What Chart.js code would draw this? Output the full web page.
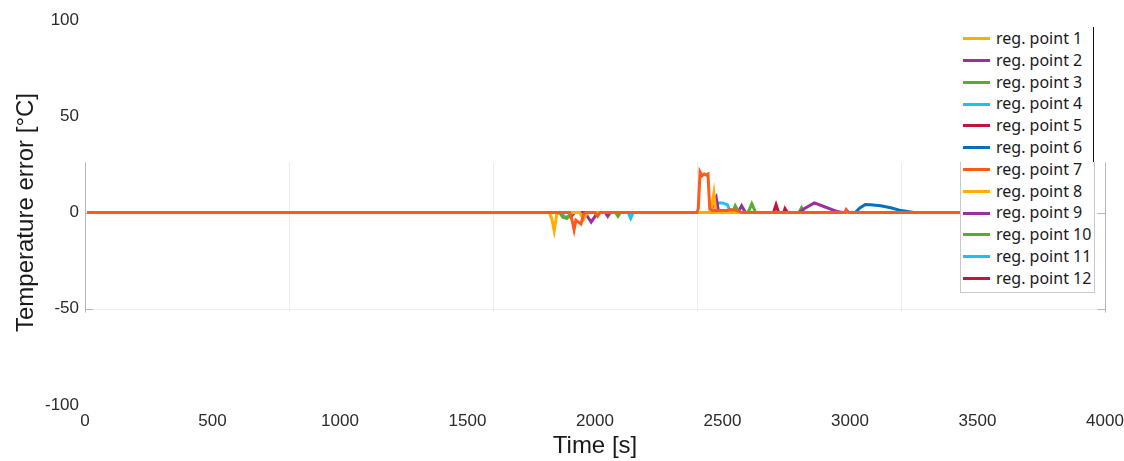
<!DOCTYPE html>
<html>
<head>
<meta charset="utf-8">
<script src="https://cdn.jsdelivr.net/npm/chart.js@4.4.1/dist/chart.umd.min.js"></script>
<style>
  html, body { margin: 0; padding: 0; background: #fff; }
  #wrap { position: relative; width: 1124px; height: 461px; }
  #legend {
    position: absolute; left: 960px; top: 25px; width: 134px; height: 268px;
    background: #fff; font-family: "Noto Sans", sans-serif; font-size: 16px; color: #1a1a1a;
  }
  #legend .frame {
    position: absolute; left: 0; top: 137px; width: 133px; bottom: 0;
    border: 1px solid #c9c9c9; border-top: none;
  }
  #legend .topline { position: absolute; left: 133px; top: 2px; width: 1px; height: 135px; background: #111; }
  #legend .item { position: absolute; left: 3px; height: 20px; line-height: 20px; white-space: nowrap; }
  #legend .swatch { display: inline-block; width: 27px; height: 3px; vertical-align: middle; margin-right: 6px; position: relative; top: -1px; }
</style>
</head>
<body>
<div id="wrap">
  <canvas id="chartErr" width="1124" height="461"></canvas>
  <div id="legend"><div class="frame"></div><div class="topline"></div></div>
</div>
<script>
// tick values
const xTicks = [0, 500, 1000, 1500, 2000, 2500, 3000, 3500, 4000];
const yTicks = [-100, -50, 0, 50, 100];
const gridX = [800, 1600, 2400, 3200];

const seriesLabels = [
  'reg. point 1', 'reg. point 2', 'reg. point 3', 'reg. point 4',
  'reg. point 5', 'reg. point 6', 'reg. point 7', 'reg. point 8',
  'reg. point 9', 'reg. point 10', 'reg. point 11', 'reg. point 12',
];
const seriesColors = [
  '#FFAE00', '#9A2F9F', '#5AAC2C', '#1CC0F2', '#C2133B', '#0071C2',
  '#FF5A1C', '#FFAE00', '#9A2F9F', '#5AAC2C', '#1CC0F2', '#C2133B',
];

// time [s] / error [°C] per registration point
const p1Time = [10, 1820, 1830, 1840, 1850, 1860, 1940, 1955, 1965, 1975, 3440];
const p1Err = [0, 0, -3, -9.5, -1, 0, 0, -3.5, -1, 0, 0];
const p2Time = [10, 1960, 1975, 1985, 2000, 2010, 2040, 2050, 2060, 3440];
const p2Err = [0, 0, -3, -5, -2, 0, 0, -2, 0, 0];
const p3Time = [10, 1860, 1875, 1890, 1905, 1915, 2080, 2090, 2100, 2540, 2550, 2565, 3440];
const p3Err = [0, 0, -2.5, -3, -1.5, 0, 0, -2, 0, 0, 3.5, 0, 0];
const p4Time = [10, 1870, 1880, 1895, 1905, 2130, 2140, 2150, 3440];
const p4Err = [0, 0, -2.5, -2, 0, 0, -3, 0, 0];
const p5Time = [10, 1900, 1910, 1920, 3440];
const p5Err = [0, 0, -1.5, 0, 0];
const p6Time = [10, 3020, 3040, 3060, 3080, 3120, 3160, 3200, 3250, 3440];
const p6Err = [0, 0, 2.5, 4.2, 4, 3.5, 2.5, 1, 0, 0];
const p7Time = [10, 1900, 1910, 1918, 1925, 1935, 1945, 1955, 1965, 2000, 2010, 2020, 2400, 2405, 2412,
  2420, 2428, 2436, 2443, 2450, 2460, 2520, 2530, 2560, 2575, 2980, 2985, 2995, 3440];
const p7Err = [0, 0, -4, -9, -4, -5, -6, -1, 0, 0, -2, 0, 0, 2, 21, 19, 20, 19.5, 20, 2, 1, 1, 1.5, 1, 0, 0, 1.5, 0, 0];
const p8Time = [10, 2452, 2460, 2466, 2474, 3440];
const p8Err = [0, 0, 5, 10, 0, 0];
const p9Time = [10, 2455, 2465, 2475, 2485, 2560, 2575, 2590, 2800, 2820, 2860, 2900, 2950, 2970, 3440];
const p9Err = [0, 0, 6, 8, 0, 0, 3.5, 0, 0, 2, 5, 3, 0.5, 0, 0];
const p10Time = [10, 2450, 2458, 2468, 2478, 2600, 2615, 2630, 2800, 2810, 2820, 3440];
const p10Err = [0, 0, 5, 5.5, 0, 0, 4.5, 0, 0, 2.5, 0, 0];
const p11Time = [10, 2470, 2480, 2500, 2520, 2530, 3440];
const p11Err = [0, 0, 5, 5, 4, 0, 0];
const p12Time = [10, 2700, 2710, 2720, 2740, 2745, 2755, 3440];
const p12Err = [0, 0, 4, 0, 0, 2, 0, 0];

const seriesTime = [p1Time, p2Time, p3Time, p4Time, p5Time, p6Time, p7Time, p8Time, p9Time, p10Time, p11Time, p12Time];
const seriesErr = [p1Err, p2Err, p3Err, p4Err, p5Err, p6Err, p7Err, p8Err, p9Err, p10Err, p11Err, p12Err];

// light partial grid + axis lines, like the exported figure
const partialGrid = {
  id: 'partialGrid',
  beforeDatasetsDraw(chart) {
    const { ctx, scales: { x, y } } = chart;
    const top = y.getPixelForValue(26);
    const bottom = y.getPixelForValue(-52);
    const left = x.getPixelForValue(0);
    const right = x.getPixelForValue(4000);
    ctx.save();
    ctx.lineWidth = 1;
    ctx.strokeStyle = '#ececec';
    gridX.forEach((v) => {
      const px = Math.round(x.getPixelForValue(v)) + 0.5;
      ctx.beginPath(); ctx.moveTo(px, top); ctx.lineTo(px, bottom); ctx.stroke();
    });
    [0, -50].forEach((v) => {
      const py = Math.round(y.getPixelForValue(v)) + 0.5;
      ctx.beginPath(); ctx.moveTo(left, py); ctx.lineTo(right, py); ctx.stroke();
    });
    ctx.strokeStyle = '#b5b5b5';
    [left, right].forEach((px, i) => {
      const xx = Math.round(px) + 0.5;
      ctx.beginPath(); ctx.moveTo(xx, top); ctx.lineTo(xx, bottom); ctx.stroke();
      [0, -50].forEach((v) => {
        const py = Math.round(y.getPixelForValue(v)) + 0.5;
        ctx.beginPath(); ctx.moveTo(xx, py); ctx.lineTo(xx + (i === 0 ? 8 : -8), py); ctx.stroke();
      });
    });
    ctx.restore();
  },
};

function buildLegend() {
  const box = document.getElementById('legend');
  seriesLabels.forEach((label, i) => {
    const item = document.createElement('div');
    item.className = 'item';
    item.style.top = (3 + i * 21.8) + 'px';
    const sw = document.createElement('span');
    sw.className = 'swatch';
    sw.style.background = seriesColors[i];
    item.appendChild(sw);
    item.appendChild(document.createTextNode(label));
    box.appendChild(item);
  });
}

function renderErrorChart() {
  const canvas = document.getElementById('chartErr');
  const datasets = seriesLabels.map((label, i) => ({
    label,
    data: seriesTime[i].map((t, j) => ({ x: t, y: seriesErr[i][j] })),
    borderColor: seriesColors[i],
    backgroundColor: seriesColors[i],
    borderWidth: 3,
    pointRadius: 0,
    tension: 0,
    order: i === 6 ? -1 : 0,
  }));

  new Chart(canvas.getContext('2d'), {
    type: 'line',
    data: { datasets },
    plugins: [partialGrid],
    options: {
      responsive: false,
      animation: false,
      layout: { padding: { top: 20, right: 19, left: 0, bottom: 0 } },
      scales: {
        x: {
          type: 'linear',
          min: 0,
          max: 4000,
          afterBuildTicks: (scale) => { scale.ticks = xTicks.map((v) => ({ value: v })); },
          afterFit: (scale) => {
            scale.height = 56;
            scale.paddingLeft = 0;
            scale.paddingRight = 0;
          },
          grid: { display: false, drawTicks: false },
          border: { display: false },
          ticks: {
            padding: 6,
            maxRotation: 0,
            color: '#2b2b2b',
            font: { family: 'Liberation Sans', size: 17 },
            callback: (value) => String(value),
          },
          title: { display: true, text: 'Time [s]', color: '#1a1a1a', padding: { top: 0, bottom: 0 }, font: { family: 'Liberation Sans', size: 24 } },
        },
        y: {
          min: -100,
          max: 100,
          afterBuildTicks: (scale) => { scale.ticks = yTicks.map((v) => ({ value: v })); },
          afterFit: (scale) => { scale.width = 85; },
          grid: { display: false, drawTicks: false },
          border: { display: false },
          ticks: { padding: 6, color: '#2b2b2b', font: { family: 'Liberation Sans', size: 17 }, callback: (value) => String(value) },
          title: { display: true, text: 'Temperature error [°C]', color: '#1a1a1a', padding: { top: 12, bottom: 0 }, font: { family: 'Liberation Sans', size: 24 } },
        },
      },
      plugins: {
        legend: { display: false },
        tooltip: { enabled: false },
      },
    },
  });
}

buildLegend();
renderErrorChart();
</script>
</body>
</html>
